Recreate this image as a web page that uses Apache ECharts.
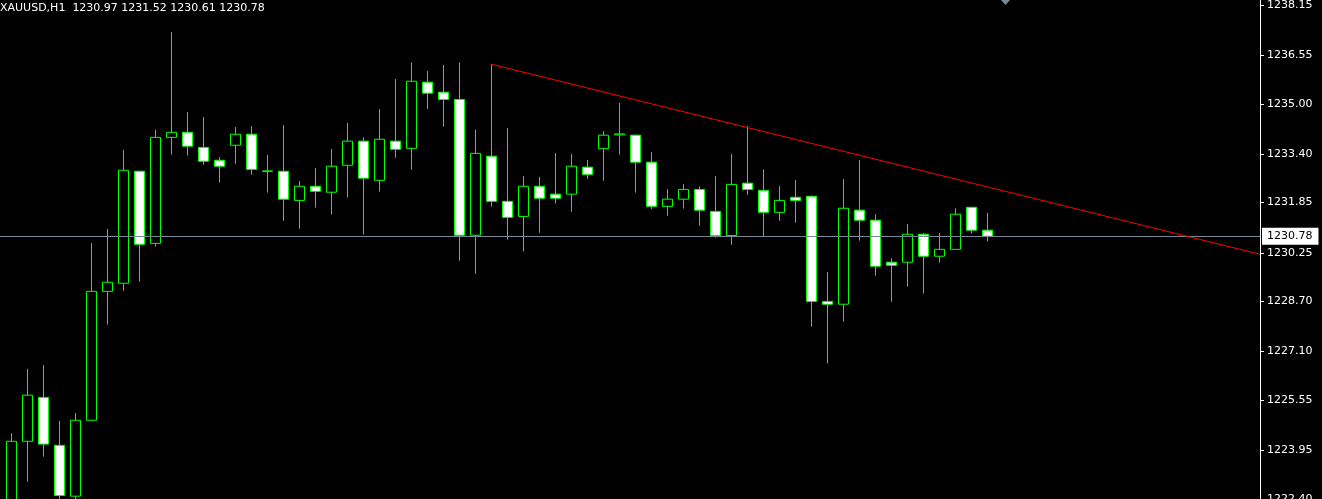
<!DOCTYPE html>
<html>
<head>
<meta charset="utf-8">
<script src="https://cdn.jsdelivr.net/npm/echarts@6/dist/echarts.min.js"></script>
<style>
html,body{margin:0;padding:0;background:#000;}
#chart{width:1322px;height:499px;}
</style>
</head>
<body>
<div id="chart"></div>
<script>
// ---- data (XAUUSD H1, bar index 0 = oldest visible bar) ----
const symbol = 'XAUUSD';
const timeframe = 'H1';
const opens  = [1222.10,1224.24,1225.64,1224.11,1222.49,1224.91,1229.02,1229.28,1232.85,1230.55,
                1233.93,1234.09,1233.61,1233.20,1233.68,1234.03,1232.86,1232.85,1231.92,1232.37,
                1232.18,1233.04,1233.81,1232.56,1233.81,1233.58,1235.69,1235.37,1235.14,1230.81,
                1233.33,1231.89,1231.41,1232.37,1232.12,1232.12,1232.98,1233.57,1234.01,1234.00,
                1233.14,1231.73,1231.96,1232.27,1231.57,1230.80,1232.47,1232.24,1231.54,1232.02,
                1232.05,1228.70,1228.61,1231.61,1231.29,1229.95,1229.95,1230.84,1230.14,1230.36,
                1231.70,1230.97];
const highs  = [1224.50,1226.55,1226.67,1224.89,1225.14,1230.56,1231.01,1233.53,1232.87,1234.17,
                1237.29,1234.74,1234.58,1233.30,1234.26,1234.29,1233.37,1234.32,1232.54,1232.95,
                1233.56,1234.39,1233.93,1234.83,1235.79,1236.32,1236.05,1236.24,1236.32,1234.17,
                1236.26,1234.23,1232.70,1232.67,1233.43,1233.40,1233.21,1234.13,1235.03,1234.02,
                1233.46,1232.28,1232.44,1232.37,1232.69,1233.40,1234.29,1232.91,1232.38,1232.57,
                1232.08,1229.64,1232.60,1233.21,1231.48,1230.08,1231.17,1230.88,1230.88,1231.67,
                1231.71,1231.52];
const lows   = [1222.00,1222.95,1223.75,1222.35,1222.38,1224.90,1227.96,1229.04,1229.33,1230.45,
                1233.38,1233.35,1233.06,1232.49,1233.09,1232.74,1232.17,1231.27,1231.02,1231.69,
                1231.47,1232.01,1230.83,1232.20,1233.28,1232.90,1234.84,1234.27,1230.00,1229.58,
                1231.72,1230.67,1230.29,1230.89,1231.82,1231.56,1232.61,1232.55,1233.38,1232.17,
                1231.64,1231.43,1231.66,1231.11,1230.73,1230.51,1232.10,1230.78,1231.27,1231.21,
                1227.89,1226.72,1228.05,1230.64,1229.52,1228.69,1229.17,1228.95,1229.94,1230.35,
                1230.86,1230.61];
const closes = [1224.24,1225.71,1224.15,1222.51,1224.91,1229.02,1229.31,1232.88,1230.52,1233.93,
                1234.09,1233.65,1233.17,1233.01,1234.03,1232.91,1232.85,1231.96,1232.37,1232.21,
                1233.01,1233.81,1232.63,1233.87,1233.55,1235.72,1235.34,1235.14,1230.81,1233.42,
                1231.89,1231.38,1232.37,1231.99,1231.99,1233.01,1232.75,1234.00,1234.04,1233.14,
                1231.73,1231.96,1232.27,1231.61,1230.80,1232.43,1232.27,1231.54,1231.92,1231.92,
                1228.70,1228.61,1231.67,1231.29,1229.82,1229.85,1230.84,1230.14,1230.36,1231.48,
                1230.97,1230.78];
const priceTickLabels = ['1238.15','1236.55','1235.00','1233.40','1231.85','1230.25',
                         '1228.70','1227.10','1225.55','1223.95','1222.40'];
// trend line anchors: [bar index, price]
const trendAnchors = [[30, 1236.26], [61, 1232.35]];

// ---- layout ----
const W = 1322, H = 499;
const axisX = 1260;          // price scale line
const barStep = 16;          // px per bar
const firstBarX = 11.5;      // centre of bar 0
const xMin = -firstBarX / barStep;
const xMax = (axisX - firstBarX) / barStep;
const yMin = 1222.40, yMax = 1238.31;

const candleData = opens.map((o, i) => [i, o, closes[i], lows[i], highs[i]]);
const last = opens.length - 1;
const lastClose = closes[last];

const slope = (trendAnchors[1][1] - trendAnchors[0][1]) / (trendAnchors[1][0] - trendAnchors[0][0]);
const trendData = [trendAnchors[0], [xMax, trendAnchors[0][1] + slope * (xMax - trendAnchors[0][0])]];

const font = 'DejaVu Sans';
const header = symbol + ',' + timeframe + '  ' +
  [opens[last], highs[last], lows[last], closes[last]].map(v => v.toFixed(2)).join(' ');

const chart = echarts.init(document.getElementById('chart'), null, {renderer: 'canvas'});
chart.setOption({
  backgroundColor: '#000000',
  animation: false,
  title: {
    text: header, left: 0, top: 3, padding: 0,
    textStyle: {color: '#ffffff', fontFamily: font, fontSize: 11, fontWeight: 'normal'}
  },
  grid: {left: 0, top: 0, width: axisX, height: H, containLabel: false, outerBoundsMode: 'none'},
  xAxis: {
    type: 'value', min: xMin, max: xMax, show: false,
    splitLine: {show: false}
  },
  yAxis: {
    type: 'value', position: 'right', min: yMin, max: yMax, scale: true,
    splitLine: {show: false},
    axisLine: {show: true, onZero: false, lineStyle: {color: '#ffffff', width: 1}},
    axisTick: {show: true, inside: false, length: 4, lineStyle: {color: '#ffffff'},
               customValues: priceTickLabels.map(Number)},
    axisLabel: {show: true, color: '#ffffff', fontFamily: font, fontSize: 11, margin: 7,
                customValues: priceTickLabels.map(Number),
                formatter: v => Number(v).toFixed(2)}
  },
  series: [
    {
      type: 'candlestick',
      data: candleData,
      encode: {x: 0, y: [1, 2, 3, 4]},
      barWidth: 10,
      itemStyle: {
        color: '#000000', color0: '#ffffff',
        borderColor: '#00ff00', borderColor0: '#00ff00',
        borderWidth: 1
      },
      markLine: {
        silent: true, symbol: ['none', 'none'],
        lineStyle: {color: '#778899', type: 'solid', width: 1},
        label: {
          show: true, position: 'end', distance: 2,
          formatter: () => lastClose.toFixed(2),
          color: '#000000', backgroundColor: '#ffffff',
          fontFamily: font, fontSize: 11, lineHeight: 13,
          padding: [2, 6, 2, 5]
        },
        data: [{yAxis: lastClose}]
      }
    },
    {
      type: 'line',
      data: trendData,
      symbol: 'none',
      lineStyle: {color: '#ff0000', width: 1},
      z: 5
    }
  ],
  graphic: [{
    type: 'polygon',
    shape: {points: [[1001, 0], [1010, 0], [1005.5, 5]]},
    style: {fill: '#778899'}
  }]
});
</script>
</body>
</html>
